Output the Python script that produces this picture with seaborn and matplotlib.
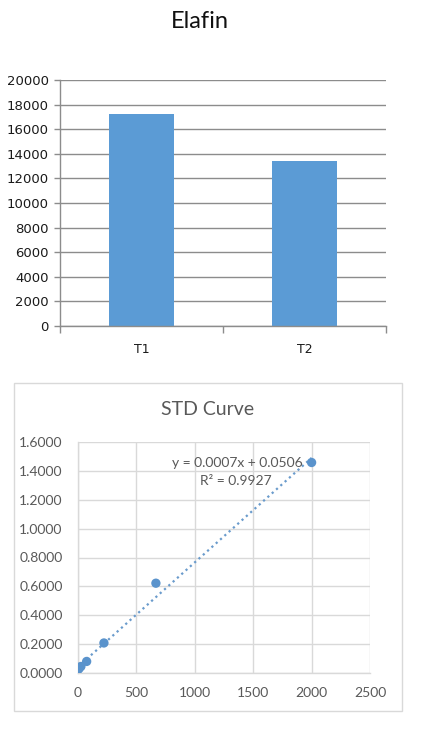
import numpy as np
import pandas as pd
import matplotlib
matplotlib.use("Agg")
import matplotlib.pyplot as plt
import seaborn as sns
from matplotlib.patches import Rectangle

# ---- data ----
categories = ["T1", "T2"]
elafin_values = [17200, 13450]
bar_yticks = [0, 2000, 4000, 6000, 8000, 10000, 12000, 14000, 16000, 18000, 20000]

std_x = [0, 8.2, 24.7, 74, 222, 667, 2000]
std_y = [0.025, 0.030, 0.045, 0.080, 0.208, 0.622, 1.458]
std_yticks = [0.0, 0.2, 0.4, 0.6, 0.8, 1.0, 1.2, 1.4, 1.6]
std_xticks = [0, 500, 1000, 1500, 2000, 2500]
eq_text = "y = 0.0007x + 0.0506"
r2_text = "R² = 0.9927"

sns.set_theme(style="white")
plt.rcParams['font.family'] = ['DejaVu Sans']

fig = plt.figure(figsize=(4.36, 7.32), dpi=100)
W, H = 436, 732

def ax_rect(l, t, r, b):
    return [l / W, 1 - b / H, (r - l) / W, (b - t) / H]

# ---- bar chart ----
ax1 = fig.add_axes(ax_rect(60, 80, 386, 326))
df_bar = pd.DataFrame({"cat": categories, "val": elafin_values})
sns.barplot(data=df_bar, x="cat", y="val", ax=ax1, color="#5B9BD5",
            width=0.4, saturation=1, edgecolor="none")
ax1.set_ylim(0, 20000)
ax1.set_xlim(-0.5, 1.5)
ax1.set_yticks(bar_yticks)
ax1.set_yticklabels([str(v) for v in bar_yticks])
ax1.yaxis.grid(True, color="#8C8C8C", linewidth=1.0)
ax1.set_axisbelow(True)
ax1.set_xlabel("")
ax1.set_ylabel("")
for s in ["top", "right"]:
    ax1.spines[s].set_visible(False)
for s in ["left", "bottom"]:
    ax1.spines[s].set_color("#8C8C8C")
    ax1.spines[s].set_linewidth(1.0)
ax1.tick_params(axis="y", length=4, width=1, color="#8C8C8C", pad=4,
                labelsize=9.5, labelcolor="#1a1a1a", left=True)
ax1.set_xticks([0, 1])
ax1.set_xticklabels(categories)
ax1.tick_params(axis="x", length=0, pad=12, labelsize=9, labelcolor="#1a1a1a")
ax1.set_xticks([-0.5, 0.5, 1.5], minor=True)
ax1.tick_params(axis="x", which="minor", length=5, width=1, color="#8C8C8C", bottom=True)
fig.text(200 / W, 1 - 22 / H, "Elafin", ha="center", va="center",
         fontsize=17, color="#111111", family=["Lato", "DejaVu Sans"])

# ---- STD curve ----
frame = Rectangle((14 / W, 1 - 711 / H), (402 - 14) / W, (711 - 383) / H,
                  transform=fig.transFigure, facecolor="white",
                  edgecolor="#D9D9D9", linewidth=1.0, zorder=-5)
fig.patches.append(frame)
ax2 = fig.add_axes(ax_rect(78, 442, 370, 673))
ax2.set_zorder(2)
ax2.set_facecolor("none")
slope, intercept = np.polyfit(std_x, std_y, 1)
xs = np.array([0, 2000])
ax2.plot(xs, slope * xs + intercept, linestyle=(0, (1, 1.6)), color="#6A9BCC",
         linewidth=1.6, zorder=2)
sns.scatterplot(x=std_x, y=std_y, ax=ax2, color="#5A93CC", s=45,
                edgecolor="none", zorder=3)
ax2.set_xlim(0, 2500)
ax2.set_ylim(0, 1.6)
ax2.set_xticks(std_xticks)
ax2.set_xticklabels([str(v) for v in std_xticks])
ax2.set_yticks(std_yticks)
ax2.set_yticklabels([f"{v:.4f}" for v in std_yticks])
ax2.grid(True, color="#D9D9D9", linewidth=1.0)
ax2.set_axisbelow(True)
for s in ["top", "right"]:
    ax2.spines[s].set_visible(False)
for s in ["left", "bottom"]:
    ax2.spines[s].set_color("#D9D9D9")
    ax2.spines[s].set_linewidth(1.0)
ax2.tick_params(axis="both", length=0, labelsize=10, labelcolor="#595959")
ax2.tick_params(axis="y", pad=11)
ax2.tick_params(axis="x", pad=10)
for lab in ax2.get_xticklabels() + ax2.get_yticklabels():
    lab.set_family(["Lato", "DejaVu Sans"])
fig.text(237 / W, 1 - 463 / H, eq_text, ha="center", va="center", zorder=5,
         fontsize=10, color="#595959", family=["Lato", "DejaVu Sans"])
fig.text(236 / W, 1 - 481 / H, r2_text, ha="center", va="center", zorder=5,
         fontsize=10, color="#595959", family=["Lato", "DejaVu Sans"])
fig.text(208 / W, 1 - 410 / H, "STD Curve", ha="center", va="center", zorder=5,
         fontsize=14, color="#595959", family=["Lato", "DejaVu Sans"])

fig.savefig("out.png", dpi=100)
